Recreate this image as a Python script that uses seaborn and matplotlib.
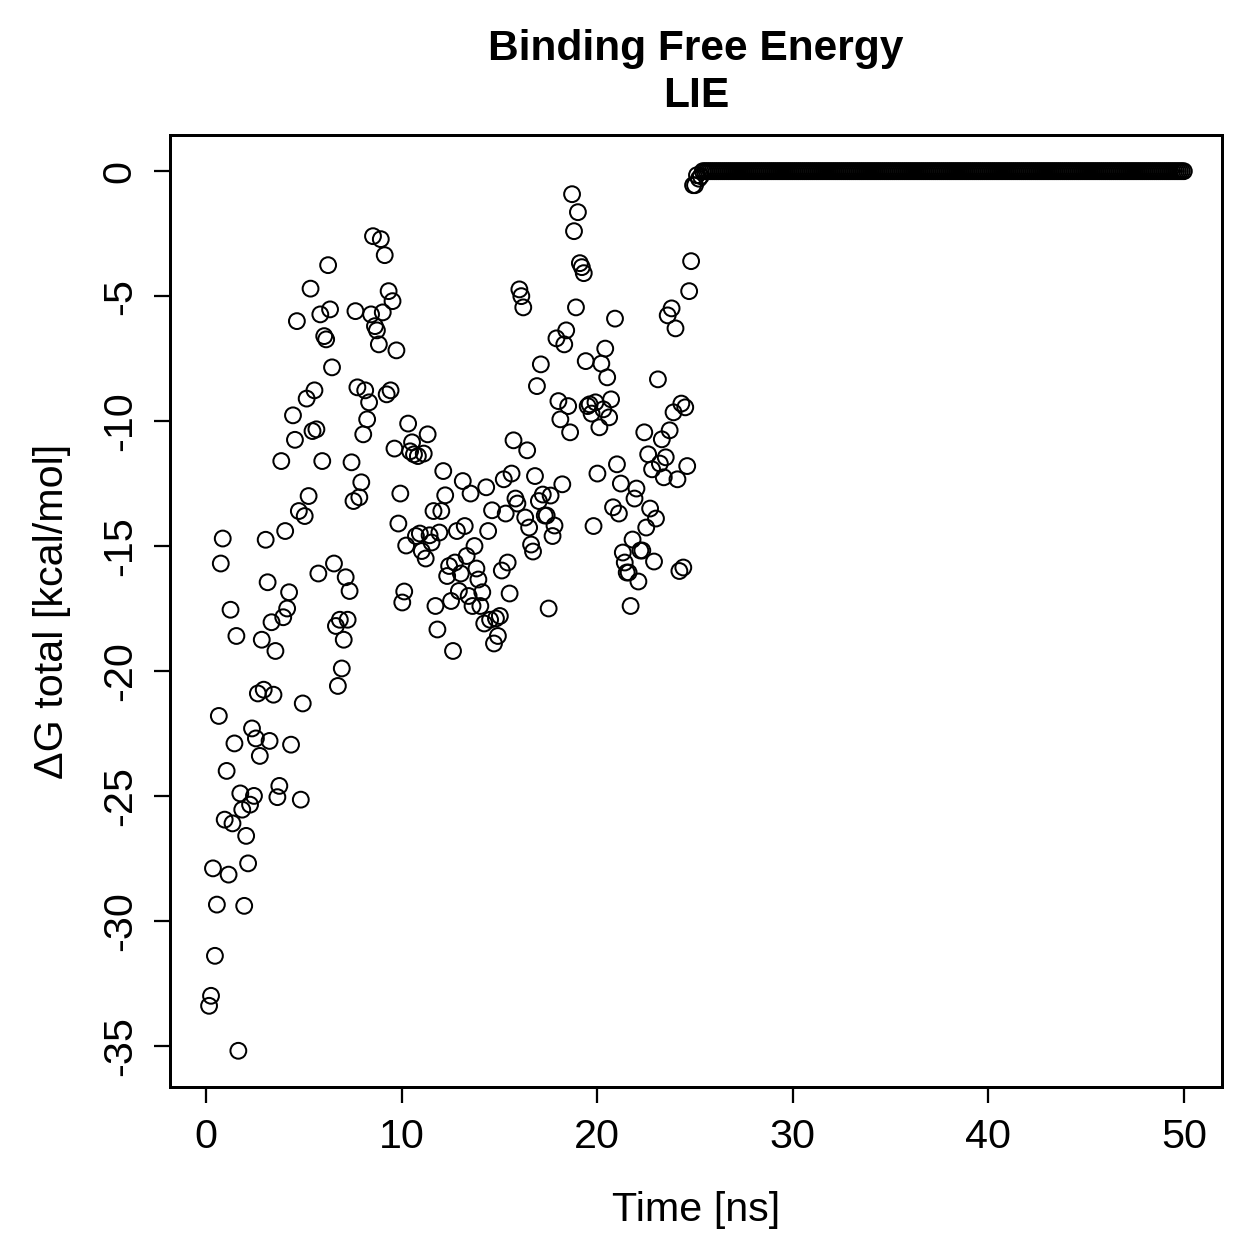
import numpy as np
import pandas as pd
import matplotlib
matplotlib.use("Agg")
import matplotlib.pyplot as plt
import seaborn as sns

# ---- data: binding free energy (LIE) per snapshot ----
dg_early = [
    -33.4, -33.0, -27.9, -31.4, -29.35, -21.8, -15.7, -14.7, -25.95, -24.0,
    -28.15, -17.55, -26.1, -22.9, -18.6, -35.2, -24.9, -25.55, -29.4, -26.6,
    -27.7, -25.35, -22.3, -25.0, -22.7, -20.9, -23.4, -18.75, -20.75, -14.75,
    -16.45, -22.8, -18.05, -20.95, -19.2, -25.05, -24.6, -11.6, -17.85, -14.4,
    -17.5, -16.85, -22.95, -9.77, -10.75, -6.0, -13.6, -25.15, -21.3, -13.8,
    -9.1, -13.0, -4.7, -10.4, -8.77, -10.33, -16.1, -5.73, -11.6, -6.6,
    -6.73, -3.76, -5.53, -7.85, -15.7, -18.2, -20.6, -17.95, -19.9, -18.75,
    -16.25, -17.95, -16.8, -11.65, -13.2, -5.6, -8.65, -13.05, -12.45, -10.53,
    -8.77, -9.93, -9.25, -5.73, -2.6, -6.2, -6.37, -6.93, -2.72, -5.65,
    -3.36, -8.93, -4.8, -8.77, -5.2, -11.1, -7.17, -14.1, -12.9, -17.26,
    -16.82, -14.98, -10.1, -11.21, -10.85, -11.33, -14.6, -11.4, -14.5, -15.2,
    -11.3, -15.5, -10.53, -14.57, -14.86, -13.6, -17.4, -18.34, -14.46, -13.6,
    -12.0, -12.97, -16.2, -15.8, -17.2, -19.2, -15.66, -14.4, -16.8, -16.1,
    -12.4, -14.2, -15.4, -17.0, -12.9, -17.4, -15.0, -15.9, -16.34, -17.4,
    -16.85, -18.1, -12.65, -14.4, -17.95, -13.57, -18.9, -17.9, -18.6, -17.8,
    -15.98, -12.33, -13.7, -15.66, -16.9, -12.1, -10.77, -13.1, -13.3, -4.73,
    -5.0, -5.45, -13.86, -11.17, -14.26, -14.94, -15.22, -12.2, -8.6, -13.2,
    -7.73, -12.94, -13.78, -13.78, -17.5, -12.98, -14.6, -14.18, -6.69, -9.2,
    -9.93, -12.53, -6.93, -6.37, -9.4, -10.45, -0.92, -2.4, -5.45, -1.64,
    -3.68, -3.84, -4.08, -7.6, -9.4, -9.33, -9.7, -14.2, -9.25, -12.1,
    -10.25, -7.7, -9.53, -7.1, -8.25, -9.85, -9.13, -13.45, -5.9, -11.73,
    -13.7, -12.5, -15.26, -15.66, -16.06, -16.06, -17.4, -14.74, -13.1, -12.7,
    -16.42, -15.18, -15.18, -10.45, -14.26, -11.33, -13.5, -11.93, -15.62, -13.9,
    -8.33, -11.7, -10.73, -12.25, -11.45, -5.77, -10.37, -5.49, -9.65, -6.29,
    -12.33, -16.0, -9.3, -15.86, -9.45, -11.8, -4.8, -3.6, -0.56, -0.56,
    -0.16, -0.3, -0.2,
]
t_early_start, t_early_end = 0.15, 25.3      # snapshot time range of the bound phase [ns]
t_tail_start, t_tail_end, t_step = 25.4, 50.0, 0.1  # unbound phase, dG = 0

t_early = np.linspace(t_early_start, t_early_end, len(dg_early))
t_tail = np.arange(t_tail_start, t_tail_end + 1e-9, t_step)
dg_tail = np.zeros(len(t_tail))

df = pd.DataFrame({
    "time": np.concatenate([t_early, t_tail]),
    "dG": np.concatenate([np.array(dg_early), dg_tail]),
})

x_ticks = [0, 10, 20, 30, 40, 50]
y_ticks = [0, -5, -10, -15, -20, -25, -30, -35]

# ---- plot ----
sns.set_theme(style="ticks")
plt.rcParams["font.family"] = ["Liberation Sans", "DejaVu Sans"]
plt.rcParams.update({"text.color": "black", "axes.labelcolor": "black",
                     "xtick.color": "black", "ytick.color": "black",
                     "axes.edgecolor": "black"})

DPI = 180
fig = plt.figure(figsize=(1259 / DPI, 1259 / DPI), dpi=DPI)
ax = fig.add_axes([0.135, 0.1366, 0.8356, 0.7562])

sns.scatterplot(data=df, x="time", y="dG", ax=ax, marker="o", s=40,
                facecolors="none", edgecolor="black", linewidth=0.8,
                legend=False)

ax.set_xlim(-1.85, 51.95)
ax.set_ylim(-36.65, 1.45)
ax.set_xticks(x_ticks)
ax.set_yticks(y_ticks)
ax.set_xticklabels([str(v) for v in x_ticks], fontsize=16.5)
ax.set_yticklabels([str(v) for v in y_ticks], fontsize=16.5, rotation=90, va="center")
ax.tick_params(axis="both", direction="out", length=6.5, width=0.9, color="black",
               pad=6, labelcolor="black")

for sp in ax.spines.values():
    sp.set_visible(True)
    sp.set_linewidth(1.2)
    sp.set_color("black")

ax.set_xlabel("Time [ns]", fontsize=16.5, labelpad=14, color="black")
ax.set_ylabel("ΔG total [kcal/mol]", fontsize=16.5, labelpad=12, color="black")
ax.set_title("Binding Free Energy\nLIE", fontsize=17, fontweight="bold",
             linespacing=1.25, pad=11, color="black")

fig.savefig("out.png", dpi=DPI)
